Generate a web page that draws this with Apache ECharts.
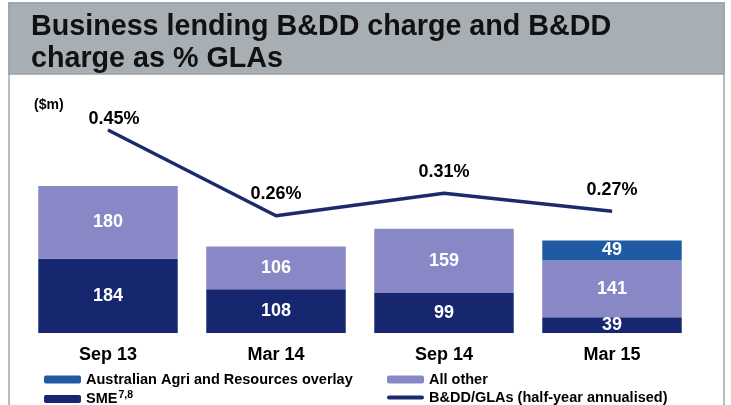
<!DOCTYPE html>
<html lang="en">
<head>
    <meta charset="UTF-8">
    <title>Business lending B&amp;DD charge</title>
    <script src="https://cdn.jsdelivr.net/npm/echarts@6/dist/echarts.min.js"></script>
    <style>
        html, body { margin: 0; padding: 0; background: #fff; }
        #chart { width: 731px; height: 405px; }
    </style>
</head>
<body>
<div id="chart"></div>
<script>
    // data
    const categories = ['Sep 13', 'Mar 14', 'Sep 14', 'Mar 15'];
    const smeValues = [184, 108, 99, 39];
    const allOtherValues = [180, 106, 159, 141];
    const agriValues = ['-', '-', '-', 49];
    const ratioValues = [0.45, 0.26, 0.31, 0.27];

    const FONT = 'Liberation Sans, Arial, sans-serif';
    const navy = '#16266f';
    const lavender = '#8888c6';
    const agriBlue = '#1f5ba4';
    const lineNavy = '#1b2a6d';

    const barLabel = {
        show: true,
        position: 'inside',
        color: '#fff',
        fontFamily: FONT,
        fontWeight: 'bold',
        fontSize: 18
    };

    const legendBase = {
        orient: 'horizontal',
        itemWidth: 37,
        itemHeight: 8,
        itemGap: 0,
        padding: 0,
        selectedMode: false,
        textStyle: { color: '#000', fontFamily: FONT, fontWeight: 'bold', fontSize: 14.5 }
    };

    const chart = echarts.init(document.getElementById('chart'));
    chart.setOption({
        animation: false,
        backgroundColor: '#fff',
        graphic: [
            { type: 'rect', shape: { x: 9, y: 3, width: 715, height: 440 },
              style: { fill: '#fff', stroke: '#a3a8ad', lineWidth: 1.5 }, z: -10 },
            { type: 'rect', shape: { x: 9, y: 3, width: 715, height: 71 },
              style: { fill: '#a7aeb4', stroke: '#9ba2a8', lineWidth: 1.5 }, z: -9 },
            { type: 'text', left: 34, top: 98,
              style: { text: '($m)', fill: '#000', font: 'bold 14px ' + FONT } }
        ],
        title: {
            text: 'Business lending B&DD charge and B&DD\ncharge as % GLAs',
            left: 31,
            top: 11,
            padding: 0,
            textStyle: { color: '#111', fontFamily: FONT, fontWeight: 'bold', fontSize: 28.7, lineHeight: 32 }
        },
        legend: [
            Object.assign({}, legendBase, { left: 44, top: 372, data: ['Australian Agri and Resources overlay'] }),
            Object.assign({}, legendBase, { left: 387, top: 372, data: ['All other'] }),
            Object.assign({}, legendBase, {
                left: 44, top: 390, data: ['SME'],
                formatter: () => '{a|SME}{s|7,8}',
                textStyle: Object.assign({}, legendBase.textStyle, {
                    rich: {
                        a: { fontFamily: FONT, fontWeight: 'bold', fontSize: 14.5, color: '#000' },
                        s: { fontFamily: FONT, fontWeight: 'bold', fontSize: 10.5, color: '#000', padding: [0, 0, 7, 1] }
                    }
                })
            }),
            Object.assign({}, legendBase, {
                left: 387, top: 390,
                data: [{ name: 'B&DD/GLAs (half-year annualised)',
                         icon: 'path://M2,0 L35,0 A2,2 0 0 1 35,4 L2,4 A2,2 0 0 1 2,0 Z' }]
            })
        ],
        grid: { left: 24, right: 35, top: 93, bottom: 72 },
        xAxis: {
            type: 'category',
            data: categories,
            axisLine: { show: false },
            axisTick: { show: false },
            axisLabel: { color: '#000', fontFamily: FONT, fontWeight: 'bold', fontSize: 18, margin: 13 }
        },
        yAxis: [
            { type: 'value', min: 0, max: 594, show: false, splitLine: { show: false } },
            { type: 'value', min: 0, max: 0.532, show: false, splitLine: { show: false } }
        ],
        series: [
            {
                name: 'SME', type: 'bar', stack: 'charge', barWidth: '83%',
                itemStyle: { color: navy }, label: barLabel, data: smeValues
            },
            {
                name: 'All other', type: 'bar', stack: 'charge',
                itemStyle: { color: lavender }, label: barLabel, data: allOtherValues
            },
            {
                name: 'Australian Agri and Resources overlay', type: 'bar', stack: 'charge',
                itemStyle: { color: agriBlue }, label: barLabel, data: agriValues
            },
            {
                name: 'B&DD/GLAs (half-year annualised)', type: 'line', yAxisIndex: 1,
                symbol: 'circle', symbolSize: 1, showSymbol: true, z: 5,
                lineStyle: { color: lineNavy, width: 3.5 },
                itemStyle: { color: lineNavy },
                label: {
                    show: true, position: 'top', distance: 12,
                    color: '#000', fontFamily: FONT, fontWeight: 'bold', fontSize: 18,
                    formatter: p => Number(p.value).toFixed(2) + '%'
                },
                data: ratioValues.map((v, i) => i === 0 ? { value: v, label: { distance: 2, offset: [6, 1] } } : v)
            }
        ]
    });
</script>
</body>
</html>
